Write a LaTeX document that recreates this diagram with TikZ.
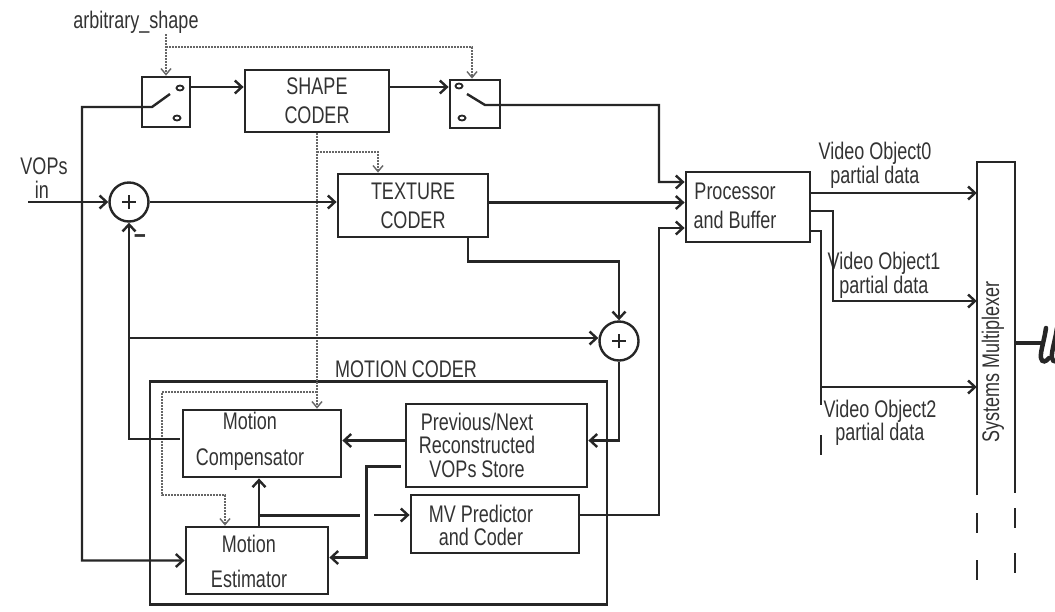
\documentclass[tikz,border=0pt]{standalone}
\usepackage{fontspec}
\setmainfont{Liberation Sans}[FakeStretch=0.75]
\usetikzlibrary{arrows.meta}
\begin{document}
\begin{tikzpicture}[x=1pt,y=-1pt,
  ink/.style={draw=black!85,line width=2.4pt},
  box/.style={draw=black!85,line width=2.8pt,rectangle,inner sep=0pt},
  txt/.style={text=black!80,align=center,inner sep=0pt,font=\fontsize{24}{29}\selectfont},
  arr/.style={ink,-{Straight Barb[length=7pt,width=13pt,line width=2.4pt]}},
  ctl/.style={draw=black!60,line width=1.4pt,dash pattern=on 2pt off 1pt},
  ctlarr/.style={ctl,-{Straight Barb[length=6pt,width=10pt,line width=1.4pt]}},
  sum/.style={circle,draw=black!85,line width=2.4pt,minimum size=39pt,inner sep=0pt},
  contact/.style={draw=black!85,line width=1.8pt}
]
\fill[white] (0,0) rectangle (1055,611);
\useasboundingbox (0,0) rectangle (1055,611);

% ---------- blocks ----------
\node[box,minimum width=48pt,minimum height=50pt] (sw1) at (166,102) {};
\node[box,txt,minimum width=144pt,minimum height=62pt] (shape) at (317,101) {SHAPE\\CODER};
\node[box,minimum width=50pt,minimum height=48pt] (sw2) at (475,104) {};
\node[box,txt,minimum width=150pt,minimum height=63pt] (tex) at (413,205.5) {TEXTURE\\CODER};
\node[box,minimum width=124pt,minimum height=70pt] (proc) at (748,207) {};
\node[txt] (proct) at (735,206) {Processor\\and Buffer};
\node[sum] (sum1) at (129,202) {};
\node[sum] (sum2) at (619,341) {};
\node[box,minimum width=457pt,minimum height=223pt] (mc) at (378.5,493) {};
\node[txt] (mct) at (406,369) {MOTION CODER};
\node[box,minimum width=158pt,minimum height=67pt] (comp) at (262,443.5) {};
\node[txt,font=\fontsize{24}{36}\selectfont] (compt) at (250,441) {Motion\\Compensator};
\node[box,minimum width=142pt,minimum height=67pt] (est) at (257,560.5) {};
\node[txt,font=\fontsize{24}{35}\selectfont] (estt) at (249,561) {Motion\\Estimator};
\node[box,minimum width=181pt,minimum height=83pt] (store) at (496.5,445.5) {};
\node[txt,font=\fontsize{24}{23.5}\selectfont] (storet) at (477,445) {Previous/Next\\Reconstructed\\VOPs Store};
\node[box,minimum width=168pt,minimum height=58pt] (mv) at (495,524) {};
\node[txt,font=\fontsize{24}{23}\selectfont] (mvt) at (481,525) {MV Predictor\\and Coder};
\node[inner sep=0pt,minimum width=38pt,minimum height=333pt] (mux) at (996,328.5) {};
\node[txt,rotate=90] (muxt) at (993,362) {Systems Multiplexer};

% ---------- labels ----------
\node[txt] (arb) at (136,22) {arbitrary\_shape};
\node[txt] (vops) at (44,166) {VOPs};
\node[txt] (vin2) at (42,190) {in};
\node[txt,font=\fontsize{24}{24}\selectfont] (vo0) at (875,165) {Video Object0\\partial data};
\node[txt,font=\fontsize{24}{24}\selectfont] (vo1) at (884,275) {Video Object1\\partial data};
\node[txt,font=\fontsize{24}{21.5}\selectfont] (vo2) at (880,423) {Video Object2\\partial data};
\node[txt,font=\bfseries\fontsize{28}{28}\selectfont] (minus) at (140,239) {–};

% ---------- plus signs ----------
\foreach \s in {sum1,sum2}{
  \draw[ink,line width=2pt] ([xshift=-7pt]\s.center) -- ([xshift=7pt]\s.center)
     ([yshift=-7pt]\s.center) -- ([yshift=7pt]\s.center);
}

% ---------- switches ----------
\draw[contact] (180,88) ellipse [x radius=3.5pt,y radius=2.5pt];
\draw[contact] (177,118) ellipse [x radius=3.5pt,y radius=2.5pt];
\draw[contact] (459,86) ellipse [x radius=3.5pt,y radius=2.5pt];
\draw[contact] (462,118) ellipse [x radius=3.5pt,y radius=2.5pt];

\coordinate (sw1in) at (82,107);
\coordinate (sw1piv) at (152,107);
\coordinate (sw1lev) at (170,94);
\draw[arr] (sw1lev) -- (sw1piv) -- (sw1in) |- (est.west);

\draw[arr] ([yshift=15pt]sw1.east) -- ([yshift=15pt]sw1.east -| shape.west);
\draw[arr] ([yshift=14pt]shape.east) -- ([yshift=14pt]shape.east -| sw2.west);

\coordinate (sw2lev) at (467,94);
\coordinate (sw2piv) at (485,105);
\coordinate (c1) at (659,105);
\draw[arr] (sw2lev) -- (sw2piv) -- (c1) |- ([yshift=25pt]proc.west);

% ---------- control (dotted) lines ----------
\coordinate (arbt) at (166,34);
\coordinate (arbb) at (166,47);
\draw[ctlarr] (arbt) -- (sw1.north);
\draw[ctlarr] (arbb) -| ([xshift=-3pt]sw2.north);
\draw[ctlarr] (shape.south) -- (shape.south |- comp.north);
\coordinate (sd1) at (317,152);
\draw[ctlarr] (sd1) -| ([xshift=-35pt]tex.north);
\coordinate (md1) at (317,392);
\coordinate (md2) at (162,392);
\coordinate (md3) at (162,495);
\draw[ctlarr] (md1) -- (md2) -- (md3) -| ([xshift=-32pt]est.north);

% ---------- main signal path ----------
\coordinate (vin) at (28,202);
\draw[arr] (vin) -- (sum1.west);
\draw[arr] (sum1.east) -- (sum1.east -| tex.west);
\draw[arr] ([yshift=3pt]tex.east) -- ([yshift=3pt]tex.east -| proc.west);
\draw[arr] ([xshift=55pt]tex.south) -- ++(0,23) -| (sum2.north);

\coordinate (fb) at (129,439);
\coordinate (compin) at (180,439);
\draw[arr] (compin) -- (fb) -- (sum1.south);
\coordinate (fb2) at (129,338);
\draw[arr] (fb2) -- (fb2 -| sum2.west);

\draw[arr] ([yshift=5pt]store.west) -- ([yshift=5pt]store.west -| comp.east);
\draw[arr] (sum2.south) |- ([yshift=5pt]store.east);
\draw[arr] ([xshift=-4pt,yshift=-21pt]store.west) -- ++(-34,0) |- ([yshift=3pt]est.east);

\draw[arr] ([xshift=2pt]est.north) -- ([xshift=2pt]est.north |- comp.south);
\coordinate (br) at (259,515);
\coordinate (brg) at (360,515);
\coordinate (brg2) at (374,515);
\draw[ink,line width=3pt] (br) -- (brg);
\draw[arr] (brg2) -- (brg2 -| mv.west);

\coordinate (mvc) at (659,515);
\draw[arr] (mv.east |- mvc) -- (mvc) |- ([yshift=-21pt]proc.west);

% ---------- processor outputs ----------
\draw[arr] ([yshift=14pt]proc.east) -- ([yshift=14pt]proc.east -| mux.west);
\coordinate (v1b) at (833,301);
\draw[arr] ([yshift=-4pt]proc.east) -| (v1b) -- (v1b -| mux.west);
\coordinate (v2a) at (821,387);
\coordinate (v2b) at (821,405);
\coordinate (v2c) at (821,435);
\coordinate (v2d) at (821,455);
\draw[ink] ([yshift=-24pt]proc.east) -| (v2b);
\draw[arr] (v2a) -- (v2a -| mux.west);
\draw[ink] (v2c) -- (v2d);

% ---------- multiplexer ----------
\draw[ink] (mux.south west) -- (mux.north west) -- (mux.north east) -- ([yshift=2pt]mux.south east);
\draw[ink] ([yshift=-18pt]mux.south west) -- ([yshift=-38pt]mux.south west)
           ([yshift=-65pt]mux.south west) -- ([yshift=-85pt]mux.south west)
           ([yshift=-13pt]mux.south east) -- ([yshift=-33pt]mux.south east)
           ([yshift=-58pt]mux.south east) -- ([yshift=-78pt]mux.south east);
\draw[ink,line width=3.5pt] ([yshift=-14.5pt]mux.east) -- ++(30,0) coordinate (mo);
\draw[draw=black!85,line width=4.5pt,line cap=round]
  (1046,328) .. controls (1044,342) and (1040,352) .. (1041,358)
  .. controls (1042,363) and (1046,362) .. (1049,358);
\draw[draw=black!85,line width=4.5pt,line cap=round]
  (1057,328) .. controls (1055,342) and (1051,352) .. (1052,358)
  .. controls (1053,363) and (1057,362) .. (1060,358);
\end{tikzpicture}
\end{document}
